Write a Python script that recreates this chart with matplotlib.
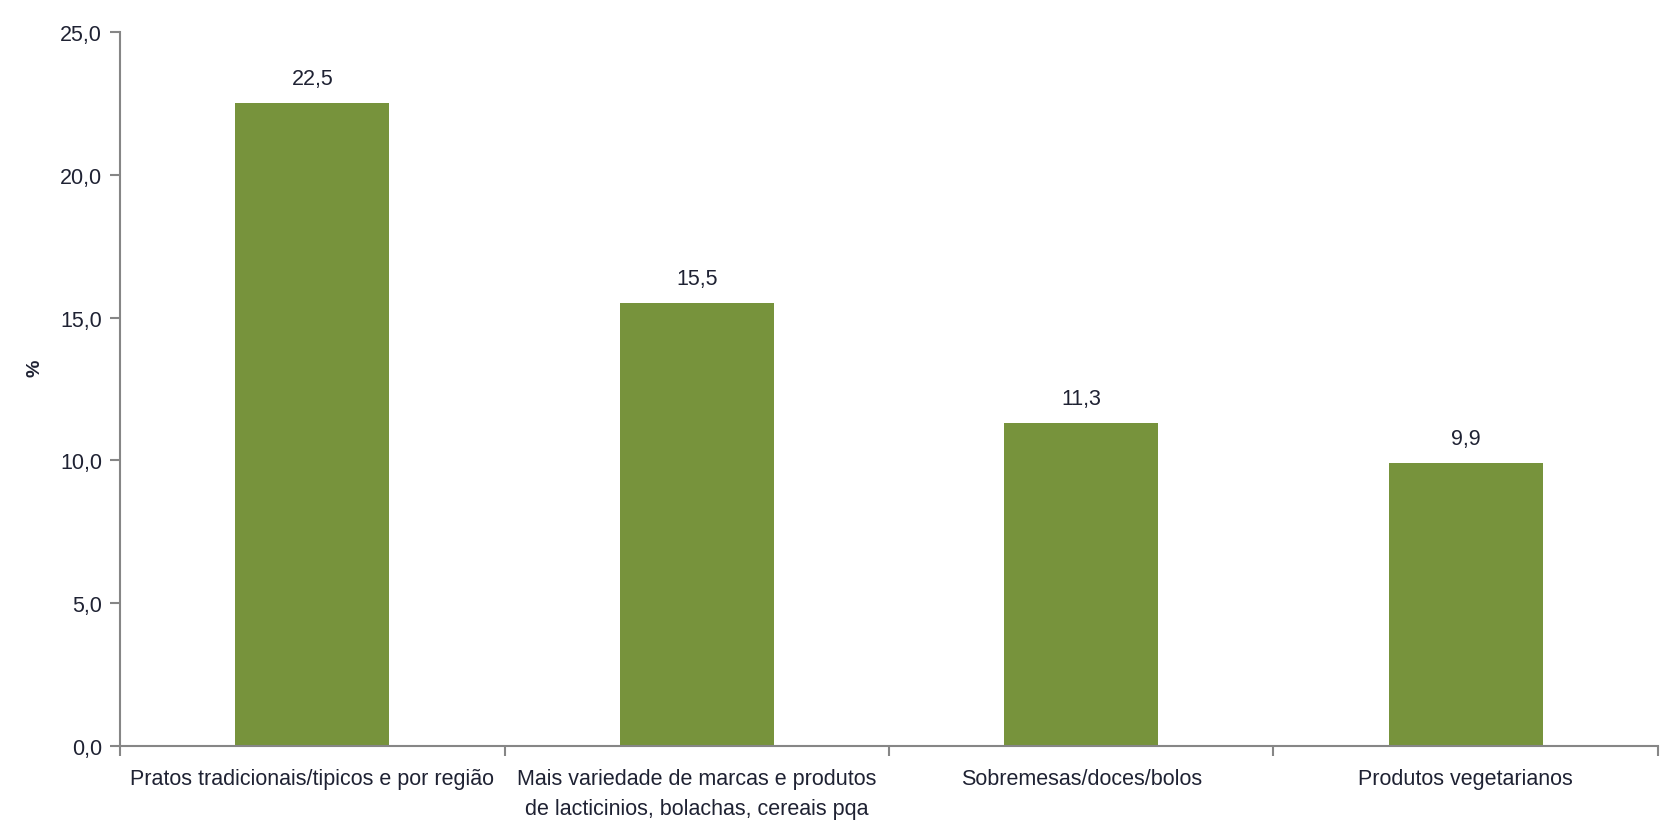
import matplotlib.pyplot as plt
from matplotlib.ticker import FuncFormatter, FixedLocator

plt.rcParams['font.family'] = ['Liberation Sans Narrow', 'Liberation Sans', 'DejaVu Sans']

categorias = [
    'Pratos tradicionais/tipicos e por região',
    'Mais variedade de marcas e produtos\nde lacticinios, bolachas, cereais pqa',
    'Sobremesas/doces/bolos',
    'Produtos vegetarianos',
]
valores = [22.5, 15.5, 11.3, 9.9]

cor_barra = '#77933C'
cor_eixo = '#868686'
cor_texto = '#1f2233'

fig = plt.figure(figsize=(16.72, 8.37), dpi=100)
ax = fig.add_axes([0.0718, 0.1075, 0.9198, 0.8531])

x = list(range(len(categorias)))
barras = ax.bar(x, valores, width=0.4, color=cor_barra)

# rótulos de valor por cima das barras
for b, v in zip(barras, valores):
    ax.annotate(f'{v:.1f}'.replace('.', ','),
                (b.get_x() + b.get_width() / 2, v),
                xytext=(0, 10), textcoords='offset points',
                ha='center', va='bottom', fontsize=15.5, color=cor_texto)

ax.set_xlim(-0.5, len(categorias) - 0.5)
ax.set_ylim(0, 25)
ax.set_yticks([0, 5, 10, 15, 20, 25])
ax.yaxis.set_major_formatter(FuncFormatter(lambda v, p: f'{v:.1f}'.replace('.', ',')))

# marcas do eixo x entre categorias, rótulos no centro
ax.xaxis.set_major_locator(FixedLocator([i - 0.5 for i in range(len(categorias) + 1)]))
ax.xaxis.set_major_formatter(FuncFormatter(lambda v, p: ''))
ax.set_xticks(x, minor=True)
ax.set_xticklabels(categorias, minor=True, fontsize=15.5, color=cor_texto,
                   linespacing=1.55)
ax.tick_params(axis='x', which='minor', length=0, pad=16)
ax.tick_params(axis='x', which='major', length=7, color=cor_eixo, width=1.5)
ax.tick_params(axis='y', length=7, color=cor_eixo, width=1.5, labelsize=15.5,
               labelcolor=cor_texto, pad=6)

for lado in ['top', 'right']:
    ax.spines[lado].set_visible(False)
for lado in ['left', 'bottom']:
    ax.spines[lado].set_color(cor_eixo)
    ax.spines[lado].set_linewidth(1.5)

fig.text(0.021, 0.56, '%', rotation=90, ha='center', va='center',
         fontsize=14, fontweight='bold', color=cor_texto)

fig.savefig('out.png', dpi=100)
